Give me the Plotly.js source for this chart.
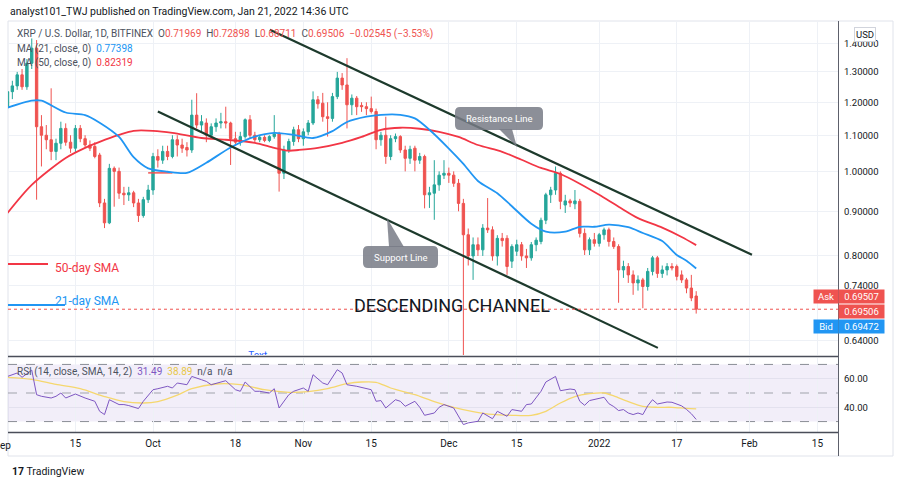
<!DOCTYPE html>
<html><head><meta charset="utf-8">
<script src="https://cdn.plot.ly/plotly-3.0.1.min.js"></script>
<style>html,body{margin:0;padding:0;background:#fff;}#chart{width:900px;height:486px;}</style>
</head><body><div id="chart"></div>
<script>
// ---------- DATA ----------
const firstDay = '2021-09-01';
const open = [1.186,1.234,1.253,1.29,1.25,1.33,1.384,1.125,1.10,1.087,
1.054,1.077,1.12,1.08,1.063,1.12,1.09,1.072,1.068,1.044,
0.92,0.873,1.008,1.0,0.944,0.94,0.945,0.92,0.89,0.928,
0.952,1.04,1.03,1.054,1.04,1.087,1.072,1.065,1.058,1.16,
1.13,1.136,1.10,1.125,1.136,1.14,1.136,1.09,1.082,1.096,
1.146,1.10,1.087,1.094,1.085,1.096,1.104,0.995,1.058,1.082,
1.116,1.09,1.11,1.136,1.208,1.197,1.155,1.15,1.218,1.279,
1.256,1.192,1.213,1.19,1.186,1.18,1.171,1.087,1.10,1.04,
1.09,1.096,1.058,1.035,1.063,1.03,1.04,0.94,0.944,0.965,
0.99,0.995,0.99,0.969,0.919,0.846,0.80,0.824,0.813,0.861,
0.857,0.80,0.838,0.838,0.789,0.81,0.824,0.80,0.796,0.824,
0.831,0.879,0.94,0.952,0.995,0.915,0.925,0.918,0.924,0.849,
0.813,0.835,0.827,0.846,0.857,0.831,0.82,0.771,0.778,0.761,
0.745,0.751,0.738,0.768,0.796,0.764,0.771,0.778,0.778,0.761,
0.751,0.735,0.71969];
const high = [1.25,1.27,1.30,1.31,1.345,1.42,1.414,1.16,1.13,1.245,
1.09,1.14,1.135,1.10,1.13,1.13,1.10,1.085,1.08,1.05,
0.93,1.02,1.013,1.01,0.96,0.96,0.95,0.93,0.935,0.965,
1.05,1.06,1.07,1.07,1.10,1.10,1.09,1.08,1.208,1.229,
1.16,1.15,1.135,1.15,1.167,1.186,1.14,1.11,1.11,1.15,
1.16,1.11,1.10,1.10,1.10,1.16,1.11,1.07,1.09,1.125,
1.13,1.12,1.145,1.235,1.22,1.23,1.20,1.23,1.30,1.296,
1.348,1.225,1.22,1.20,1.20,1.218,1.18,1.11,1.155,1.10,
1.105,1.10,1.07,1.07,1.07,1.05,1.045,0.96,1.03,1.0,
1.03,1.01,1.0,0.98,0.93,0.86,0.84,0.84,0.87,0.932,
0.865,0.845,0.85,0.845,0.825,0.835,0.83,0.815,0.83,0.84,
0.885,0.945,0.96,1.013,1.0,0.94,0.93,0.952,0.93,0.86,
0.84,0.85,0.85,0.862,0.862,0.84,0.825,0.79,0.785,0.77,
0.76,0.755,0.775,0.80,0.80,0.78,0.785,0.785,0.782,0.77,
0.755,0.761,0.72898];
const low = [1.17,1.21,1.24,1.24,1.24,1.31,0.928,1.013,1.06,1.03,
1.03,1.06,1.07,1.05,1.05,1.08,1.065,1.055,1.035,0.91,
0.861,0.87,0.911,0.93,0.915,0.925,0.91,0.875,0.885,0.92,
0.94,1.01,1.02,1.03,1.035,1.04,1.05,1.04,1.05,1.12,
1.11,1.08,1.09,1.11,1.12,1.12,1.017,1.07,1.07,1.09,
1.09,1.08,1.08,1.08,1.08,1.09,0.948,0.98,1.05,1.07,
1.08,1.07,1.10,1.13,1.18,1.14,1.096,1.14,1.21,1.24,
1.12,1.16,1.16,1.17,1.16,1.165,1.06,1.07,1.02,1.03,
1.08,1.05,1.00,1.02,1.00,1.02,0.907,0.908,0.88,0.95,
0.98,0.97,0.96,0.90,0.60,0.78,0.751,0.80,0.80,0.85,
0.79,0.78,0.82,0.761,0.775,0.80,0.79,0.775,0.79,0.81,
0.825,0.87,0.92,0.94,0.905,0.896,0.91,0.905,0.84,0.802,
0.802,0.82,0.82,0.835,0.82,0.815,0.707,0.755,0.745,0.722,
0.73,0.697,0.73,0.76,0.755,0.755,0.76,0.77,0.75,0.745,
0.725,0.71,0.68711];
const close = [1.234,1.253,1.29,1.25,1.33,1.384,1.125,1.10,1.087,1.054,
1.077,1.12,1.08,1.063,1.12,1.09,1.072,1.063,1.04,0.92,
0.873,1.008,1.0,0.944,0.94,0.945,0.92,0.89,0.928,0.952,
1.04,1.03,1.054,1.04,1.087,1.072,1.063,1.058,1.16,1.13,
1.14,1.10,1.125,1.136,1.14,1.136,1.09,1.08,1.096,1.146,
1.10,1.087,1.094,1.085,1.096,1.104,0.995,1.058,1.082,1.116,
1.09,1.11,1.136,1.208,1.195,1.155,1.15,1.218,1.279,1.256,
1.192,1.213,1.186,1.186,1.18,1.171,1.087,1.10,1.04,1.09,
1.096,1.058,1.035,1.06,1.03,1.04,0.94,0.945,0.965,0.99,
0.995,0.99,0.969,0.919,0.846,0.80,0.824,0.813,0.861,0.857,
0.80,0.838,0.833,0.778,0.82,0.824,0.80,0.796,0.824,0.834,
0.879,0.94,0.952,0.995,0.924,0.925,0.92,0.925,0.849,0.813,
0.835,0.827,0.846,0.857,0.831,0.82,0.771,0.778,0.761,0.745,
0.751,0.738,0.768,0.796,0.764,0.771,0.778,0.775,0.758,0.751,
0.735,0.716,0.69506];

// moving averages (days after firstDay, value)
const ma21Day = [0,5,7,12,16,19,23,26,29,33,37,41,46,51,55,59,63,67,70,74,77,81,84,87,91,94,97,101,104,108,111,115,118,121,124,128,131,135,138,140,142];
const ma21Val = [1.183,1.205,1.205,1.168,1.16,1.137,1.095,1.038,1.008,0.999,0.996,1.023,1.065,1.096,1.107,1.101,1.092,1.112,1.139,1.155,1.161,1.161,1.15,1.116,1.062,1.02,0.975,0.944,0.912,0.871,0.853,0.853,0.864,0.864,0.869,0.863,0.850,0.832,0.802,0.790,0.77398];
const ma50Day = [0,5,12,16,19,23,26,30,34,40,45,51,55,58,60,64,69,73,77,81,85,89,93,97,102,106,110,114,118,122,126,130,135,139,142];
const ma50Val = [0.896,0.965,1.036,1.064,1.081,1.101,1.113,1.113,1.107,1.092,1.087,1.078,1.064,1.056,1.058,1.064,1.078,1.095,1.116,1.122,1.119,1.110,1.095,1.072,1.053,1.031,1.009,0.993,0.968,0.940,0.911,0.884,0.862,0.841,0.82319];

// RSI panel
const rsiDay = [0,2,3,5,6,7,9,10,11,12,14,15,16,18,19,20,21,23,24,25,27,28,30,31,33,34,35,37,38,40,41,42,44,45,47,48,49,51,52,54,55,56,58,59,61,62,63,65,66,68,69,70,72,73,75,76,77,78,80,81,82,84,85,86,88,89,90,92,93,94,95,97,98,100,101,103,104,106,107,108,110,111,113,114,116,117,118,119,120,122,123,124,125,126,127,128,129,130,131,132,133,134,135,136,137,138,139,140,141,142];
const rsiVal = [61.6,64,61,66,48.8,47.7,46.5,47.7,50,46.5,49.3,47.7,46.5,44.2,37.2,34.9,45.3,41.9,41.9,41.2,39.1,44.2,52.3,53,54.7,53.5,57,55.8,61.6,59.3,58.1,55.8,57.7,58.6,52.3,51.2,57.7,51.2,51.2,50,53,39.5,48.8,51.2,53.5,51.2,62.8,57,55.8,66.3,64,55.8,54.7,54,52.3,44.2,44.7,39.5,45.3,44.2,40.7,44.2,40,34.4,36,40,41.9,39.5,33.7,27.9,29.1,30.2,36,32,37.2,33.7,38.4,37.2,41.9,42.3,51.2,57.7,61.6,51.6,52.8,52.3,44.2,41.4,44.7,46.5,47,42.5,40.5,37.7,38.4,36,34.9,36,34.9,41,45.3,42.3,43,43.7,43.5,42,41,38.5,35.5,31.49];
const rsiSmaDay = [0,5,10,15,20,24,28,31,35,38,43,48,53,58,62,66,70,73,76,79,84,88,92,96,100,104,108,111,114,117,120,123,125,128,131,134,137,140,142];
const rsiSmaVal = [61,59.5,56,53,47.5,44,43,44,48.5,53,56.3,55.8,52.3,50.5,51,53,56.5,57.7,57.5,53.5,48.8,44,40,37,35,34.4,34.4,37.2,43,47.5,49.5,50,48,44,40.7,40,40,39.2,38.89];

// drawn trend lines (day offset, price)
const resistanceDay = [54.1, 153.5];
const resistancePrice = [1.4526, 0.8023];
const supportDay = [31.0, 134.1];
const supportPrice = [1.171, 0.6277];
const levelDay = [29, 34];
const levelPrice = [0.996, 0.996];

const priceTicks = [0.64,0.74,0.8,0.9,1.0,1.1,1.2,1.3,1.4];
const rsiTicks = [40, 60];
const dateTicks = ['2021-09-15','2021-10-01','2021-10-18','2021-11-01','2021-11-15','2021-12-01','2021-12-15','2022-01-01','2022-01-17','2022-02-01','2022-02-15'];
const dateTickText = ['15','Oct','18','Nov','15','Dec','15','2022','17','Feb','15'];
const askPrice = 0.69507, bidPrice = 0.69472;
const legendO = '0.71969', legendH = '0.72898', legendL = '0.68711', legendC = '0.69506', legendChg = '\u22120.02545 (\u22123.53%)';

// ---------- HELPERS ----------
const t0 = Date.parse(firstDay + 'T00:00:00Z');
const dayToDate = d => new Date(t0 + d * 864e5).toISOString().slice(0,19).replace('T',' ');
const dates = close.map((_, i) => dayToDate(i));
const L = 8, R = 838, T = 22, B = 432;
const px = x => (x - L) / (R - L);
const py = y => (B - y) / (B - T);
const UP = '#26a69a', DN = '#ef5350';
const FONT = 'Roboto, Liberation Sans, sans-serif';
const lastClose = close[close.length - 1];

function ann(text, x, y, o) {
  return Object.assign({text, x: px(x), y: py(y), xref:'paper', yref:'paper', showarrow:false,
    xanchor:'left', yanchor:'middle', font:{family:FONT, size:10, color:'#131722'}}, o || {});
}
function roundRect(x0, y0, x1, y1, r) {
  const P = (x, y) => px(x) + ',' + py(y);
  return 'M' + P(x0 + r, y0) + ' L' + P(x1 - r, y0) + ' Q' + P(x1, y0) + ' ' + P(x1, y0 + r) +
    ' L' + P(x1, y1 - r) + ' Q' + P(x1, y1) + ' ' + P(x1 - r, y1) +
    ' L' + P(x0 + r, y1) + ' Q' + P(x0, y1) + ' ' + P(x0, y1 - r) +
    ' L' + P(x0, y0 + r) + ' Q' + P(x0, y0) + ' ' + P(x0 + r, y0) + ' Z';
}
function tri(a, b, c) {
  const P = p => px(p[0]) + ',' + py(p[1]);
  return 'M' + P(a) + ' L' + P(b) + ' L' + P(c) + ' Z';
}

// ---------- TRACES ----------
const traces = [
  {type:'scatter', mode:'lines', x: levelDay.map(dayToDate), y: levelPrice, xaxis:'x', yaxis:'y',
   line:{color:'#ef5350', width:1.5}, hoverinfo:'skip'},
  {type:'scatter', mode:'lines', x: ma50Day.map(dayToDate), y: ma50Val, xaxis:'x', yaxis:'y',
   line:{color:'#f23645', width:1.8, shape:'spline', smoothing:0.8}, hoverinfo:'skip'},
  {type:'scatter', mode:'lines', x: ma21Day.map(dayToDate), y: ma21Val, xaxis:'x', yaxis:'y',
   line:{color:'#2196f3', width:1.8, shape:'spline', smoothing:0.8}, hoverinfo:'skip'},
  {type:'candlestick', x: dates, open, high, low, close, xaxis:'x', yaxis:'y',
   increasing:{line:{color:UP, width:1}, fillcolor:UP},
   decreasing:{line:{color:DN, width:1}, fillcolor:DN}, whiskerwidth:0, hoverinfo:'skip'},
  {type:'scatter', mode:'lines', x: resistanceDay.map(dayToDate), y: resistancePrice, xaxis:'x', yaxis:'y',
   line:{color:'#1d3a2c', width:2.2}, hoverinfo:'skip'},
  {type:'scatter', mode:'lines', x: supportDay.map(dayToDate), y: supportPrice, xaxis:'x', yaxis:'y',
   line:{color:'#1d3a2c', width:2.2}, hoverinfo:'skip'},
  {type:'scatter', mode:'text', x:[dayToDate(51.6)], y:[0.6138], text:['Text'], xaxis:'x', yaxis:'y',
   textfont:{family:FONT, size:10, color:'#2962ff'}, cliponaxis:true, hoverinfo:'skip'},
  {type:'scatter', mode:'lines', x: rsiSmaDay.map(dayToDate), y: rsiSmaVal, xaxis:'x', yaxis:'y2',
   line:{color:'#f5d76e', width:1.3, shape:'spline', smoothing:0.8}, hoverinfo:'skip'},
  {type:'scatter', mode:'lines', x: rsiDay.map(dayToDate), y: rsiVal, xaxis:'x', yaxis:'y2',
   line:{color:'#7e57c2', width:1}, hoverinfo:'skip'}
];

// ---------- LAYOUT ----------
const gridC = '#eef1f6';
const shapes = [
  {type:'rect', xref:'paper', yref:'paper', x0:px(8), x1:px(893), y0:py(21), y1:py(456), line:{color:'#e0e3eb', width:1}, layer:'below'},
  {type:'rect', xref:'paper', yref:'y2', x0:0, x1:1, y0:30, y1:70, fillcolor:'rgba(126,87,194,0.10)', line:{width:0}, layer:'below'},
  {type:'line', xref:'paper', yref:'y2', x0:0, x1:1, y0:70, y1:70, line:{color:'#8a8d96', width:1, dash:'dash'}, layer:'below'},
  {type:'line', xref:'paper', yref:'y2', x0:0, x1:1, y0:50, y1:50, line:{color:'#a0a3ab', width:1, dash:'dash'}, layer:'below'},
  {type:'line', xref:'paper', yref:'y2', x0:0, x1:1, y0:30, y1:30, line:{color:'#8a8d96', width:1, dash:'dash'}, layer:'below'},
  {type:'line', xref:'paper', yref:'y', x0:0, x1:1, y0:lastClose, y1:lastClose, line:{color:'#ef5350', width:1, dash:'dot'}},
  {type:'line', xref:'paper', yref:'paper', x0:0, x1:1, y0:py(356.5), y1:py(356.5), line:{color:'#4a4e59', width:1.5}},
  {type:'line', xref:'paper', yref:'paper', x0:0, x1:1, y0:py(432.5), y1:py(432.5), line:{color:'#4a4e59', width:1.5}},
  {type:'line', xref:'paper', yref:'paper', x0:px(838.5), x1:px(838.5), y0:py(21), y1:py(456), line:{color:'#5d606b', width:1}},
  {type:'line', xref:'paper', yref:'paper', x0:px(8), x1:px(48), y0:py(264), y1:py(264), line:{color:'#f23645', width:2}},
  {type:'line', xref:'paper', yref:'paper', x0:px(8), x1:px(65), y0:py(305), y1:py(305), line:{color:'#2196f3', width:2}},
  {type:'path', xref:'paper', yref:'paper', path: roundRect(455,107,543,130,5), fillcolor:'rgba(120,123,134,0.85)', line:{width:0}},
  {type:'path', xref:'paper', yref:'paper', path: tri([499,129],[512,129],[517,147]), fillcolor:'rgba(120,123,134,0.85)', line:{width:0}},
  {type:'path', xref:'paper', yref:'paper', path: roundRect(363,246,438,268,5), fillcolor:'rgba(120,123,134,0.85)', line:{width:0}},
  {type:'path', xref:'paper', yref:'paper', path: tri([389,247],[404,247],[387,218]), fillcolor:'rgba(120,123,134,0.85)', line:{width:0}}
];

const annotations = [
  ann('analyst101_TWJ published on TradingView.com, Jan 21, 2022 14:36 UTC', 8, 12, {font:{family:FONT, size:10.5, color:'#131722'}}),
  ann('XRP / U.S. Dollar, 1D, BITFINEX  O<span style="color:#ef5350">' + legendO + '</span>  H<span style="color:#ef5350">' + legendH +
      '</span>  L<span style="color:#ef5350">' + legendL + '</span>  C<span style="color:#ef5350">' + legendC +
      '</span>  <span style="color:#ef5350">' + legendChg + '</span>', 15, 34, {font:{family:FONT, size:10, color:'#4c525e'}}),
  ann('MA (21, close, 0)  <span style="color:#2196f3">' + ma21Val[ma21Val.length-1].toFixed(5) + '</span>', 15, 49, {font:{family:FONT, size:10, color:'#4c525e'}}),
  ann('MA (50, close, 0)  <span style="color:#f23645">' + ma50Val[ma50Val.length-1].toFixed(5) + '</span>', 15, 63, {font:{family:FONT, size:10, color:'#4c525e'}}),
  ann('RSI (14, close, SMA, 14, 2)  <span style="color:#7e57c2">' + rsiVal[rsiVal.length-1].toFixed(2) + '</span>  <span style="color:#e8c84a">' +
      rsiSmaVal[rsiSmaVal.length-1].toFixed(2) + '</span>  n/a  n/a', 15, 372, {font:{family:FONT, size:10, color:'#4c525e'}}),
  ann('Resistance Line', 499, 118.5, {xanchor:'center', font:{family:FONT, size:9.5, color:'#ffffff'}}),
  ann('Support Line', 400.5, 257, {xanchor:'center', font:{family:FONT, size:9.5, color:'#ffffff'}}),
  ann('DESCENDING CHANNEL', 452, 305, {xanchor:'center', font:{family:FONT, size:18, color:'#131722'}}),
  ann('50-day SMA', 53, 268, {font:{family:FONT, size:12, color:'#f23645'}}),
  ann('21-day SMA', 53, 301, {font:{family:FONT, size:12, color:'#2196f3'}}),
  ann('Sep', 13, 445, {xanchor:'right', font:{family:FONT, size:10, color:'#131722'}}),
  ann('USD', 865, 34, {xanchor:'center', bgcolor:'#ffffff', bordercolor:'#d1d4dc', borderwidth:1, borderpad:1, font:{family:FONT, size:9.5, color:'#131722'}}),
  ann('Ask', 825.5, 297, {xanchor:'center', width:22, height:11, bgcolor:'#ef5350', borderpad:1, font:{family:FONT, size:9.5, color:'#ffffff'}}),
  ann(askPrice.toFixed(5), 861.5, 297, {xanchor:'center', width:43, height:11, bgcolor:'#ef5350', borderpad:1, font:{family:FONT, size:9.5, color:'#ffffff'}}),
  ann(lastClose.toFixed(5), 861.5, 311, {xanchor:'center', width:43, height:11, bgcolor:'#ef5350', borderpad:1, font:{family:FONT, size:9.5, color:'#ffffff'}}),
  ann('Bid', 825.5, 326, {xanchor:'center', width:22, height:11, bgcolor:'#2196f3', borderpad:1, font:{family:FONT, size:9.5, color:'#ffffff'}}),
  ann(bidPrice.toFixed(5), 861.5, 326, {xanchor:'center', width:43, height:11, bgcolor:'#2196f3', borderpad:1, font:{family:FONT, size:9.5, color:'#ffffff'}}),
  ann('<b>17</b> TradingView', 10, 471, {font:{family:FONT, size:10.5, color:'#131722'}})
];

const layout = {
  width:900, height:486, margin:{l:L, r:900-R, t:T, b:486-B},
  paper_bgcolor:'#ffffff', plot_bgcolor:'#ffffff', showlegend:false,
  hovermode:false, dragmode:false,
  xaxis:{type:'date', anchor:'y2', domain:[0,1], range:['2021-09-01 02:28','2022-02-19 05:46'],
    tickmode:'array', tickvals:dateTicks, ticktext:dateTickText, ticks:'', showgrid:true, gridcolor:gridC,
    zeroline:false, showline:false, rangeslider:{visible:false}, tickfont:{family:FONT, size:10, color:'#131722'}, ticklabelstandoff:4},
  yaxis:{type:'log', domain:[py(355), 1], anchor:'x', side:'right',
    range:[Math.log10(0.616), Math.log10(1.483)], tickmode:'array', tickvals:priceTicks,
    ticktext:priceTicks.map(v => v.toFixed(5)), showgrid:true, gridcolor:gridC, zeroline:false, showline:false, ticks:'',
    tickfont:{family:FONT, size:9.5, color:'#131722'}, ticklabelstandoff:5},
  yaxis2:{domain:[0, py(358)], anchor:'x', side:'right', range:[22.7, 74.5], tickmode:'array', tickvals:rsiTicks,
    ticktext:rsiTicks.map(v => v.toFixed(2)), showgrid:true, gridcolor:'#e3e1ee', zeroline:false, showline:false, ticks:'',
    tickfont:{family:FONT, size:9.5, color:'#131722'}, ticklabelstandoff:5},
  shapes, annotations
};

Plotly.newPlot('chart', traces, layout, {displayModeBar:false, staticPlot:true});
</script></body></html>
